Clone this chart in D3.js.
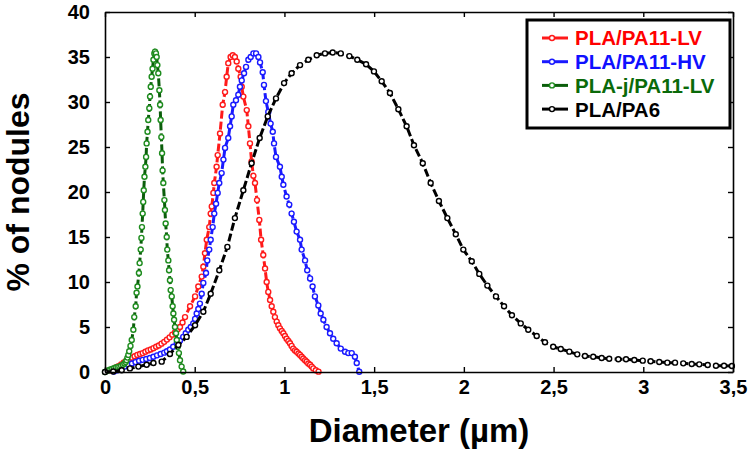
<!DOCTYPE html>
<html>
<head>
<meta charset="utf-8">
<script src="https://cdn.jsdelivr.net/npm/d3@7/dist/d3.min.js"></script>
<style>
  html, body { margin: 0; padding: 0; background: #fff; }
  svg { display: block; }
  text { font-family: "Liberation Sans", Arial, Helvetica, sans-serif; font-weight: bold; }
</style>
</head>
<body>
<svg id="chart" width="749" height="455"></svg>
<script>
// ---------- data ----------
const seriesNames = ["PLA/PA11-LV", "PLA/PA11-HV", "PLA-j/PA11-LV", "PLA/PA6"];

const lvX = [0.03, 0.045, 0.06, 0.075, 0.09, 0.105, 0.12, 0.135, 0.15, 0.165, 0.18, 0.195, 0.21, 0.225, 0.24, 0.255, 0.27, 0.285, 0.3, 0.315, 0.33, 0.345, 0.36, 0.375, 0.39, 0.405, 0.418, 0.432, 0.446, 0.474, 0.502, 0.52, 0.539, 0.548, 0.557, 0.567, 0.581, 0.589, 0.595, 0.604, 0.609, 0.622, 0.628, 0.641, 0.656, 0.669, 0.678, 0.687, 0.7, 0.712, 0.724, 0.734, 0.743, 0.756, 0.762, 0.771, 0.79, 0.799, 0.808, 0.817, 0.827, 0.836, 0.847, 0.86, 0.87, 0.882, 0.892, 0.901, 0.91, 0.92, 0.929, 0.938, 0.947, 0.957, 0.966, 0.975, 0.985, 0.994, 1.003, 1.012, 1.022, 1.031, 1.04, 1.049, 1.059, 1.068, 1.078, 1.087, 1.096, 1.105, 1.115, 1.124, 1.133, 1.143, 1.152, 1.161, 1.175, 1.19];
const lvY = [0.2, 0.35, 0.5, 0.65, 0.85, 1.05, 1.25, 1.45, 1.6, 1.75, 1.9, 2.0, 2.1, 2.25, 2.4, 2.5, 2.65, 2.8, 2.95, 3.15, 3.35, 3.6, 3.85, 4.15, 4.4, 4.75, 5.0, 5.5, 6.1, 7.3, 8.4, 9.5, 10.6, 11.7, 13.2, 14.7, 16.1, 17.6, 18.4, 19.9, 21.0, 22.8, 24.1, 26.5, 29.7, 31.1, 32.8, 34.3, 35.0, 35.2, 35.0, 34.5, 33.7, 32.8, 31.7, 30.6, 29.1, 27.3, 25.4, 23.4, 21.8, 21.0, 19.1, 16.9, 14.7, 13.0, 11.5, 10.0, 8.9, 8.0, 7.3, 6.7, 6.1, 5.6, 5.2, 4.85, 4.55, 4.3, 4.0, 3.7, 3.45, 3.2, 2.9, 2.6, 2.4, 2.25, 2.05, 1.9, 1.7, 1.5, 1.3, 1.15, 0.95, 0.8, 0.6, 0.4, 0.2, 0.04];

const hvX = [0.05, 0.07, 0.09, 0.11, 0.13, 0.15, 0.17, 0.19, 0.21, 0.23, 0.25, 0.27, 0.29, 0.31, 0.33, 0.345, 0.362, 0.38, 0.4, 0.418, 0.436, 0.45, 0.464, 0.478, 0.492, 0.502, 0.511, 0.52, 0.529, 0.539, 0.548, 0.563, 0.57, 0.581, 0.589, 0.6, 0.609, 0.619, 0.628, 0.637, 0.65, 0.66, 0.669, 0.687, 0.697, 0.706, 0.715, 0.73, 0.743, 0.752, 0.762, 0.775, 0.786, 0.799, 0.812, 0.827, 0.842, 0.855, 0.864, 0.879, 0.886, 0.897, 0.91, 0.923, 0.935, 0.942, 0.953, 0.975, 0.985, 0.994, 1.012, 1.027, 1.04, 1.053, 1.068, 1.087, 1.096, 1.115, 1.127, 1.143, 1.157, 1.17, 1.189, 1.202, 1.217, 1.235, 1.254, 1.272, 1.291, 1.314, 1.338, 1.356, 1.375, 1.393, 1.403, 1.417];
const hvY = [0.05, 0.2, 0.4, 0.6, 0.8, 0.95, 1.1, 1.25, 1.35, 1.45, 1.55, 1.7, 1.85, 2.0, 2.15, 2.3, 2.5, 2.8, 3.2, 3.5, 3.9, 4.3, 4.7, 5.0, 5.4, 5.9, 6.5, 7.0, 7.6, 8.7, 9.9, 11.0, 12.4, 13.6, 14.7, 16.1, 17.6, 18.7, 19.9, 21.0, 22.1, 23.6, 24.9, 26.0, 27.3, 28.4, 29.7, 30.2, 30.8, 31.7, 32.4, 33.2, 33.9, 34.7, 35.0, 35.4, 35.4, 35.0, 34.4, 33.3, 31.9, 30.1, 28.9, 27.6, 26.7, 25.4, 23.9, 22.8, 21.7, 20.8, 19.5, 18.6, 17.6, 16.7, 15.6, 14.7, 13.6, 12.4, 11.3, 10.4, 9.5, 8.4, 7.4, 6.5, 5.8, 5.0, 4.3, 3.7, 3.2, 2.6, 2.25, 2.1, 2.1, 1.7, 1.0, 0.03];

const jX = [0, 0.01, 0.02, 0.03, 0.04, 0.05, 0.06, 0.07, 0.08, 0.09, 0.1, 0.108, 0.115, 0.12, 0.125, 0.13, 0.135, 0.142, 0.149, 0.158, 0.163, 0.171, 0.176, 0.181, 0.189, 0.193, 0.199, 0.203, 0.206, 0.21, 0.213, 0.216, 0.22, 0.225, 0.229, 0.232, 0.237, 0.241, 0.247, 0.251, 0.255, 0.26, 0.265, 0.27, 0.275, 0.279, 0.284, 0.288, 0.292, 0.297, 0.303, 0.307, 0.31, 0.314, 0.318, 0.321, 0.325, 0.331, 0.334, 0.338, 0.344, 0.347, 0.353, 0.357, 0.362, 0.366, 0.372, 0.377, 0.381, 0.385, 0.39, 0.396, 0.4, 0.405, 0.412, 0.418, 0.427, 0.436];
const jY = [0, 0.1, 0.2, 0.28, 0.35, 0.42, 0.5, 0.55, 0.6, 0.7, 0.8, 0.95, 1.1, 1.3, 1.6, 1.9, 2.3, 2.9, 3.55, 4.7, 6.1, 7.3, 8.8, 9.5, 11.0, 12.1, 13.6, 14.9, 16.1, 17.6, 18.9, 20.2, 21.7, 22.8, 23.9, 25.4, 26.7, 28.0, 29.3, 30.6, 31.7, 32.8, 33.7, 34.7, 35.4, 35.6, 35.4, 35.0, 34.1, 33.2, 31.3, 29.7, 28.0, 26.1, 24.3, 22.4, 21.0, 19.1, 18.0, 16.5, 15.0, 13.6, 12.4, 11.3, 10.2, 9.1, 8.4, 7.3, 6.5, 5.8, 5.0, 4.3, 3.55, 2.8, 2.1, 1.3, 0.6, 0.05];

const pa6X = [0, 0.046, 0.093, 0.139, 0.186, 0.232, 0.27, 0.316, 0.362, 0.409, 0.455, 0.502, 0.548, 0.589, 0.637, 0.682, 0.724, 0.771, 0.817, 0.862, 0.907, 0.953, 0.998, 1.04, 1.087, 1.133, 1.18, 1.226, 1.269, 1.314, 1.362, 1.406, 1.455, 1.499, 1.542, 1.588, 1.635, 1.681, 1.722, 1.771, 1.815, 1.861, 1.908, 1.955, 1.997, 2.044, 2.086, 2.131, 2.179, 2.224, 2.268, 2.317, 2.359, 2.406, 2.452, 2.498, 2.54, 2.588, 2.632, 2.675, 2.721, 2.768, 2.81, 2.861, 2.904, 2.95, 2.997, 3.041, 3.089, 3.134, 3.177, 3.223, 3.27, 3.312, 3.359, 3.405, 3.45, 3.494];
const pa6Y = [0, 0.05, 0.2, 0.4, 0.6, 0.8, 1.0, 1.15, 2.0, 3.0, 3.9, 5.2, 6.7, 8.7, 11.3, 13.9, 17.1, 20.2, 23.2, 26.0, 28.4, 30.4, 32.1, 33.2, 34.1, 34.7, 35.2, 35.4, 35.5, 35.4, 35.1, 34.7, 34.2, 33.4, 32.3, 31.0, 29.2, 27.3, 25.2, 23.2, 21.0, 19.0, 17.1, 15.3, 13.6, 12.3, 10.9, 9.6, 8.4, 7.3, 6.3, 5.4, 4.7, 4.0, 3.3, 2.8, 2.55, 2.26, 1.96, 1.78, 1.7, 1.56, 1.48, 1.41, 1.41, 1.33, 1.26, 1.19, 1.11, 1.04, 1.04, 0.96, 0.89, 0.85, 0.78, 0.7, 0.7, 0.67];

const xTicks = [0, 0.5, 1, 1.5, 2, 2.5, 3, 3.5];
const yTicks = [0, 5, 10, 15, 20, 25, 30, 35, 40];
const xTitle = "Diameter (µm)";
const yTitle = "% of nodules";

// ---------- styling / layout ----------
const colors = ["#ff1a1a", "#1a1aff", "#1e8c1e", "#000000"];
const lineColors = ["#ff1a1a", "#1a1aff", "#0b5e0b", "#000000"];
const legendTextColors = ["#ff0000", "#1010ff", "#0a6a0a", "#000000"];
const margin = { left: 105, right: 16, top: 12, bottom: 83 };
const W = 749, H = 455;

const svg = d3.select("#chart");
const x = d3.scaleLinear().domain([0, 3.5]).range([margin.left, W - margin.right]);
const y = d3.scaleLinear().domain([0, 40]).range([H - margin.bottom, margin.top]);

const fmt = d => String(d).replace(".", ",");

// series
const allSeries = [
  { x: lvX, y: lvY },
  { x: hvX, y: hvY },
  { x: jX, y: jY },
  { x: pa6X, y: pa6Y }
].map((s, i) => ({ name: seriesNames[i], pts: s.x.map((v, k) => [v, s.y[k]]) }));

const line = d3.line().x(d => x(d[0])).y(d => y(d[1]));

allSeries.forEach((s, i) => {
  const g = svg.append("g");
  g.append("path")
    .datum(s.pts)
    .attr("d", line)
    .attr("fill", "none")
    .attr("stroke", lineColors[i])
    .attr("stroke-width", 3)
    .attr("stroke-dasharray", "8,3");
  g.selectAll("circle").data(s.pts).join("circle")
    .attr("cx", d => x(d[0]))
    .attr("cy", d => y(d[1]))
    .attr("r", 2.5)
    .attr("fill", "#fff")
    .attr("stroke", colors[i])
    .attr("stroke-width", 1.4);
});

// axes
const axB = svg.append("g").attr("transform", `translate(0,${y(0)})`)
  .call(d3.axisBottom(x).tickValues(xTicks).tickFormat(fmt).tickSizeInner(-5).tickSizeOuter(0).tickPadding(8));
const axL = svg.append("g").attr("transform", `translate(${x(0)},0)`)
  .call(d3.axisLeft(y).tickValues(yTicks).tickFormat(d3.format("d")).tickSizeInner(-5).tickSizeOuter(0).tickPadding(15));
const axT = svg.append("g").attr("transform", `translate(0,${y(40)})`)
  .call(d3.axisTop(x).tickValues(xTicks).tickFormat("").tickSizeInner(-5).tickSizeOuter(0));
const axR = svg.append("g").attr("transform", `translate(${x(3.5)},0)`)
  .call(d3.axisRight(y).tickValues(yTicks).tickFormat("").tickSizeInner(-5).tickSizeOuter(0));

[axB, axL, axT, axR].forEach(a => {
  a.select(".domain").attr("stroke", "#000").attr("stroke-width", 1.6);
  a.selectAll(".tick line").attr("stroke", "#000").attr("stroke-width", 1.4);
  a.selectAll(".tick text").attr("fill", "#000").attr("font-size", 20)
    .attr("font-family", "'Liberation Sans', Arial, sans-serif").attr("font-weight", "bold");
});

// titles
svg.append("text")
  .attr("x", (x(0) + x(3.5)) / 2).attr("y", 442)
  .attr("text-anchor", "middle").attr("font-size", 33).attr("fill", "#000")
  .text(xTitle);
svg.append("text")
  .attr("transform", `translate(29,${(y(0) + y(40)) / 2}) rotate(-90)`)
  .attr("text-anchor", "middle").attr("font-size", 32).attr("fill", "#000")
  .text(yTitle);

// legend
const lg = svg.append("g");
lg.append("rect").attr("x", 527).attr("y", 20).attr("width", 203).attr("height", 108)
  .attr("fill", "#fff").attr("stroke", "#000").attr("stroke-width", 3);
seriesNames.forEach((n, i) => {
  const cy = 38 + i * 23.7;
  lg.append("line").attr("x1", 542).attr("x2", 568).attr("y1", cy).attr("y2", cy)
    .attr("stroke", lineColors[i]).attr("stroke-width", 3);
  lg.append("circle").attr("cx", 552).attr("cy", cy).attr("r", 2.5)
    .attr("fill", "#fff").attr("stroke", colors[i]).attr("stroke-width", 1.4);
  lg.append("text").attr("x", 575).attr("y", cy + 7.4)
    .attr("font-size", 20.5).attr("fill", legendTextColors[i]).text(n);
});
</script>
</body>
</html>
